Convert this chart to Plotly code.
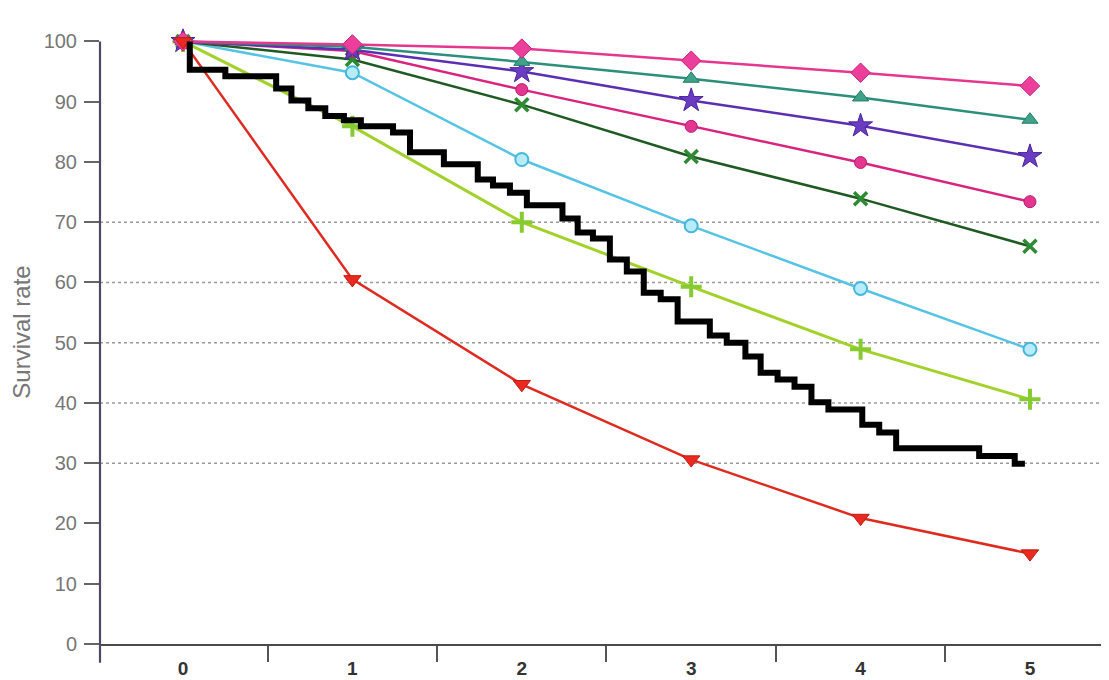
import plotly.graph_objects as go

# ---------------- data ----------------
years = [0, 1, 2, 3, 4, 5]
diamond_pink = [100, 99.5, 98.8, 96.8, 94.8, 92.6]
triangle_teal = [100, 99.1, 96.6, 93.8, 90.7, 87.0]
star_purple = [100, 98.6, 95.0, 90.2, 86.0, 80.9]
circle_magenta = [100, 98.4, 92.0, 85.9, 79.9, 73.4]
x_green = [100, 97.0, 89.5, 80.9, 73.9, 66.0]
circle_cyan = [100, 94.8, 80.4, 69.4, 59.0, 48.9]
plus_lime = [100, 85.9, 70.0, 59.3, 48.9, 40.6]
triangle_red = [100, 60.5, 43.1, 30.6, 20.9, 15.0]

km_time = [0.04, 0.04, 0.25, 0.55, 0.64, 0.74, 0.84, 0.95, 1.05, 1.24, 1.34,
           1.54, 1.74, 1.83, 1.93, 2.03, 2.24, 2.33, 2.42, 2.52, 2.62, 2.72,
           2.82, 2.92, 3.11, 3.21, 3.32, 3.41, 3.51, 3.61, 3.71, 3.81, 4.01,
           4.11, 4.21, 4.70, 4.91, 4.97]
km_surv = [100, 95.3, 94.2, 92.2, 90.2, 88.9, 87.6, 86.9, 85.9, 84.9, 81.6,
           79.6, 77.1, 76.1, 74.9, 72.8, 70.6, 68.3, 67.3, 63.8, 61.8, 58.3,
           57.2, 53.5, 51.2, 50.0, 47.7, 45.0, 43.9, 42.7, 40.1, 38.9, 36.4,
           35.1, 32.5, 31.2, 29.9, 29.9]

y_ticks = [0, 10, 20, 30, 40, 50, 60, 70, 80, 90, 100]
x_ticks = [0, 1, 2, 3, 4, 5]
x_between_ticks = [0.5, 1.5, 2.5, 3.5, 4.5, 5.43]
grid_levels = [30, 40, 50, 60, 70]
y_title = "Survival rate"

# ---------------- figure ----------------
fig = go.Figure()

series = [
    (plus_lime, "#a3d12c", 3, dict(symbol="cross-thin", size=15, color="#8fd13a",
                                   line=dict(width=4, color="#86cc30"))),
    (circle_cyan, "#55c3e4", 2.5, dict(symbol="circle", size=13, color="#b8ecf8",
                                      line=dict(width=2, color="#45b6dc"))),
    (x_green, "#1e5a22", 2.5, dict(symbol="x-thin", size=13, color="#2f8a34",
                                  line=dict(width=3.5, color="#2f8a34"))),
    (circle_magenta, "#d8247f", 2.5, dict(symbol="circle", size=12, color="#e2368f",
                                         line=dict(width=1, color="#c0156f"))),
    (star_purple, "#5a2fb2", 2.5, dict(symbol="star", size=18, color="#6a3cc0",
                                      line=dict(width=1, color="#4a22a0"))),
    (triangle_teal, "#2b8f7c", 2.5, dict(symbol="triangle-up", size=14, color="#3fa38a",
                                        line=dict(width=1, color="#237a68"))),
    (diamond_pink, "#e6378f", 2.5, dict(symbol="diamond", size=15, color="#ec3f9c",
                                       line=dict(width=1, color="#c81f7c"))),
    (triangle_red, "#df2a20", 2.5, dict(symbol="triangle-down", size=15, color="#ea2a20",
                                       line=dict(width=1, color="#c01a12"))),
]

for vals, lcol, lw, mk in series:
    fig.add_trace(go.Scatter(x=years, y=vals, mode="lines+markers",
                             line=dict(color=lcol, width=lw), marker=mk,
                             cliponaxis=False, showlegend=False))

fig.add_trace(go.Scatter(x=km_time, y=km_surv, mode="lines",
                         line=dict(color="black", width=6, shape="hv"),
                         showlegend=False))

# dotted reference lines
for g in grid_levels:
    fig.add_shape(type="line", xref="paper", x0=0, x1=1, yref="y", y0=g, y1=g,
                  line=dict(color="#9a9a9a", width=1.5, dash="dot"), layer="below")

# vertical axis line (extends slightly below the x axis)
fig.add_shape(type="line", xref="paper", x0=0, x1=0, yref="paper",
              y0=-0.03, y1=100 / 103.55,
              line=dict(color="#524866", width=2.2))

fig.update_layout(
    width=1101, height=672,
    margin=dict(l=92, r=5, t=12, b=36),
    paper_bgcolor="white", plot_bgcolor="white",
    font=dict(family="Liberation Sans, Arial, sans-serif"),
    xaxis=dict(
        range=[-0.49, 5.437], tickvals=x_ticks, ticktext=[str(v) for v in x_ticks],
        ticks="", showgrid=False, zeroline=False,
        showline=True, linecolor="#4a4a4a", linewidth=1.8,
        tickfont=dict(size=19, color="#333333", family="Liberation Sans, Arial",
                      weight="bold"),
        ticklabelstandoff=6,
        automargin=False,
        minor=dict(tickvals=x_between_ticks, ticks="outside", ticklen=16,
                   tickcolor="#555555", tickwidth=1.8),
    ),
    yaxis=dict(
        range=[0, 103.55], tickvals=y_ticks, ticks="outside", ticklen=15,
        tickcolor="#666666", tickwidth=1.5, showgrid=False, zeroline=False,
        showline=False,
        tickfont=dict(size=20, color="#777777"),
        ticklabelstandoff=3,
        title=dict(text=y_title, font=dict(size=24, color="#777777"), standoff=10),
        automargin=False,
    ),
)

fig.write_html("out.html")
